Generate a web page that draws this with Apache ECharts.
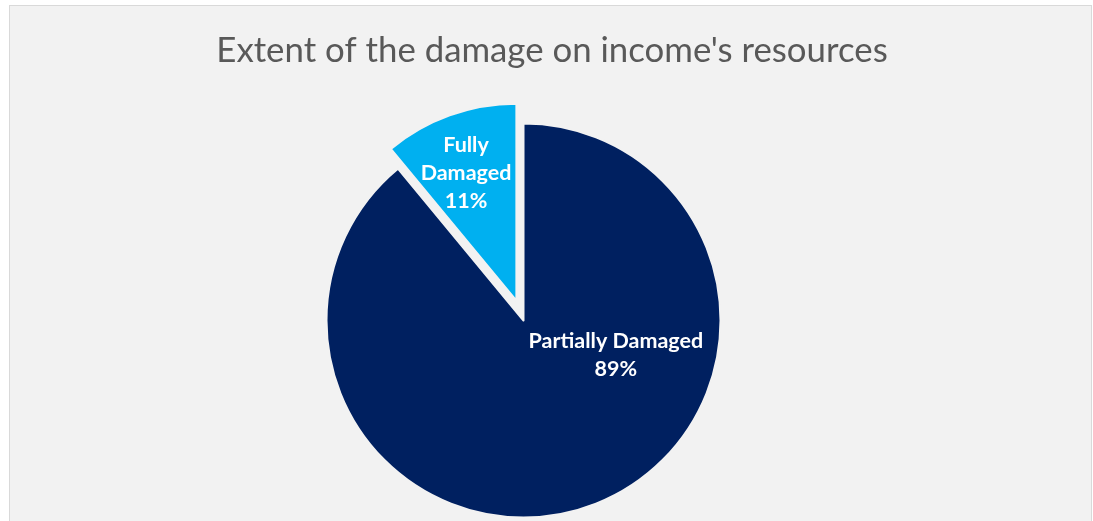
<!DOCTYPE html>
<html>
<head>
<meta charset="utf-8">
<script src="https://cdn.jsdelivr.net/npm/echarts@6/dist/echarts.min.js"></script>
<style>
html,body{margin:0;padding:0;background:#ffffff;}
#wrap{position:relative;width:1093px;height:521px;overflow:hidden;background:#ffffff;}
#bg{position:absolute;left:9px;top:5px;width:1081px;height:530px;background:#f2f2f2;border:1px solid #d9d9d9;}
#chart{position:absolute;left:0;top:0;width:1093px;height:521px;}
</style>
</head>
<body>
<div id="wrap"><div id="bg"></div><div id="chart"></div></div>
<script>
const titleText = "Extent of the damage on income's resources";
const categories = ["Partially Damaged", "Fully Damaged"];
const values = [89, 11];
const colors = ["#002060", "#00B0F0"];
const labelShift = [[58, -61], [-16, -32]];

const chart = echarts.init(document.getElementById('chart'), null, {renderer: 'canvas'});
chart.setOption({
  backgroundColor: 'transparent',
  animation: false,
  title: {
    text: titleText,
    left: 547,
    top: 28,
    textAlign: 'center',
    textStyle: {fontFamily: 'Lato', fontWeight: 'normal', fontSize: 34.8, color: '#595959'}
  },
  series: [{
    type: 'pie',
    center: [523.5, 320.5],
    radius: 197,
    startAngle: 90,
    clockwise: true,
    selectedMode: 'single',
    selectedOffset: 21,
    avoidLabelOverlap: false,
    emphasis: {disabled: true},
    itemStyle: {borderColor: '#f2f2f2', borderWidth: 2},
    label: {
      show: true,
      position: 'inside',
      color: '#ffffff',
      fontFamily: 'Lato',
      fontWeight: 'bold',
      fontSize: 21.5,
      lineHeight: 28,
      formatter: function (p) {
        const name = p.dataIndex === 1 ? p.name.replace(' ', '\n') : p.name;
        return name + '\n' + Math.round(p.percent) + '%';
      }
    },
    labelLine: {show: false},
    labelLayout: function (params) {
      const s = labelShift[params.dataIndex];
      return {dx: s[0], dy: s[1]};
    },
    data: categories.map((c, i) => ({
      name: c,
      value: values[i],
      selected: i === 1,
      itemStyle: {color: colors[i]}
    }))
  }]
});
</script>
</body>
</html>
